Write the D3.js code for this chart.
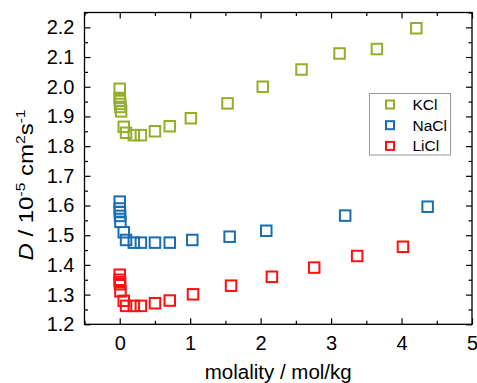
<!DOCTYPE html>
<html><head><meta charset="utf-8">
<script src="https://cdn.jsdelivr.net/npm/d3@7"></script>
<style>body{margin:0;background:#fff;} text{font-family:"Liberation Sans",Arial,sans-serif;}</style>
</head><body><svg id="c" width="477" height="383"></svg>
<script>
const seriesNames = ["KCl", "NaCl", "LiCl"];
const seriesColors = ["#92AE2A", "#1A6DAE", "#FF1010"];
const kclM = [0.0001, 0.001, 0.002, 0.005, 0.01, 0.02, 0.057, 0.09, 0.2, 0.3, 0.5, 0.71, 1.01, 1.53, 2.03, 2.58, 3.12, 3.65, 4.21];
const kclD = [1.993, 1.962, 1.952, 1.942, 1.932, 1.917, 1.865, 1.845, 1.837, 1.837, 1.850, 1.867, 1.894, 1.944, 2.000, 2.058, 2.112, 2.127, 2.197];
const naclM = [0.0001, 0.001, 0.002, 0.005, 0.01, 0.057, 0.09, 0.2, 0.3, 0.5, 0.71, 1.03, 1.56, 2.08, 3.2, 4.37];
const naclD = [1.613, 1.590, 1.578, 1.565, 1.545, 1.510, 1.484, 1.475, 1.475, 1.475, 1.475, 1.484, 1.495, 1.515, 1.566, 1.596];
const liclM = [0.0001, 0.001, 0.002, 0.005, 0.01, 0.057, 0.09, 0.2, 0.3, 0.5, 0.71, 1.04, 1.58, 2.16, 2.76, 3.37, 4.02];
const liclD = [1.367, 1.350, 1.342, 1.335, 1.311, 1.279, 1.262, 1.262, 1.262, 1.271, 1.280, 1.301, 1.330, 1.360, 1.391, 1.430, 1.461];
const xTicks = [0, 1, 2, 3, 4, 5];
const xMinor = [-0.5, 0.5, 1.5, 2.5, 3.5, 4.5];
const yTicks = [1.2, 1.3, 1.4, 1.5, 1.6, 1.7, 1.8, 1.9, 2.0, 2.1, 2.2];
const yMinor = [1.25, 1.35, 1.45, 1.55, 1.65, 1.75, 1.85, 1.95, 2.05, 2.15, 2.25];

const W = 477, H = 383;
const m = {l: 84.5, t: 12.5, r: 5, b: 58.7};
const svg = d3.select("#c");
const x = d3.scaleLinear().domain([-0.5, 5]).range([m.l, W - m.r]);
const y = d3.scaleLinear().domain([1.2, 2.25]).range([H - m.b, m.t]);
const fs = 20;

function styleAxis(g) {
  g.select(".domain").remove();
  g.selectAll("line").attr("stroke", "#000").attr("stroke-width", 1.2);
  g.selectAll("text").attr("font-size", fs).attr("fill", "#000").attr("font-family", "Liberation Sans, Arial, sans-serif");
}
// bottom
svg.append("g").attr("transform", `translate(0,${y.range()[0]})`)
  .call(d3.axisBottom(x).tickValues(xTicks).tickFormat(d3.format("d")).tickSize(-6).tickPadding(12)).call(styleAxis);
svg.append("g").attr("transform", `translate(0,${y.range()[0]})`)
  .call(d3.axisBottom(x).tickValues(xMinor).tickFormat("").tickSize(-3.5)).call(styleAxis);
// top
svg.append("g").attr("transform", `translate(0,${m.t})`)
  .call(d3.axisTop(x).tickValues(xTicks).tickFormat("").tickSize(-6)).call(styleAxis);
svg.append("g").attr("transform", `translate(0,${m.t})`)
  .call(d3.axisTop(x).tickValues(xMinor).tickFormat("").tickSize(-3.5)).call(styleAxis);
// left
svg.append("g").attr("transform", `translate(${m.l},0)`)
  .call(d3.axisLeft(y).tickValues(yTicks).tickFormat(d3.format(".1f")).tickSize(-6).tickPadding(10)).call(styleAxis);
svg.append("g").attr("transform", `translate(${m.l},0)`)
  .call(d3.axisLeft(y).tickValues(yMinor).tickFormat("").tickSize(-3.5)).call(styleAxis);
// right
svg.append("g").attr("transform", `translate(${W - m.r},0)`)
  .call(d3.axisRight(y).tickValues(yTicks).tickFormat("").tickSize(-6)).call(styleAxis);
svg.append("g").attr("transform", `translate(${W - m.r},0)`)
  .call(d3.axisRight(y).tickValues(yMinor).tickFormat("").tickSize(-3.5)).call(styleAxis);

// frame
svg.append("rect").attr("x", m.l).attr("y", m.t).attr("width", W - m.r - m.l).attr("height", H - m.b - m.t)
  .attr("fill", "none").attr("stroke", "#000").attr("stroke-width", 1.3);

const data = [
  kclM.map((v, i) => ({m: v, d: kclD[i]})),
  naclM.map((v, i) => ({m: v, d: naclD[i]})),
  liclM.map((v, i) => ({m: v, d: liclD[i]}))
];
const s = 10.5;
data.forEach((pts, k) => {
  svg.append("g").selectAll("rect").data(pts).join("rect")
    .attr("x", d => x(d.m) - s / 2).attr("y", d => y(d.d) - s / 2)
    .attr("width", s).attr("height", s)
    .attr("fill", "none").attr("stroke", seriesColors[k]).attr("stroke-width", 2);
});

// legend
const lg = svg.append("g");
lg.append("rect").attr("x", 369.5).attr("y", 93.5).attr("width", 81).attr("height", 61.5)
  .attr("fill", "#fff").attr("stroke", "#999").attr("stroke-width", 1);
seriesNames.forEach((n, i) => {
  const cy = 104.5 + i * 20.7;
  lg.append("rect").attr("x", 390 - 4).attr("y", cy - 4).attr("width", 8).attr("height", 8)
    .attr("fill", "none").attr("stroke", seriesColors[i]).attr("stroke-width", 2);
  lg.append("text").attr("x", 412.5).attr("y", cy + 5.5).attr("font-size", 15.5).text(n);
});

// axis titles
svg.append("text").attr("x", (m.l + W - m.r) / 2).attr("y", 379).attr("text-anchor", "middle")
  .attr("font-size", 20.5).text("molality / mol/kg");
const yl = svg.append("text").attr("transform", "translate(33,185) rotate(-90) scale(1.2,1)").attr("text-anchor", "middle").attr("font-size", 20);
yl.append("tspan").attr("font-style", "italic").text("D");
yl.append("tspan").text(" / 10");
yl.append("tspan").attr("dy", -8).attr("font-size", 13).text("-5");
yl.append("tspan").attr("dy", 8).text(" cm");
yl.append("tspan").attr("dy", -8).attr("font-size", 13).text("2");
yl.append("tspan").attr("dy", 8).text("s");
yl.append("tspan").attr("dy", -8).attr("font-size", 13).text("-1");
</script></body></html>
